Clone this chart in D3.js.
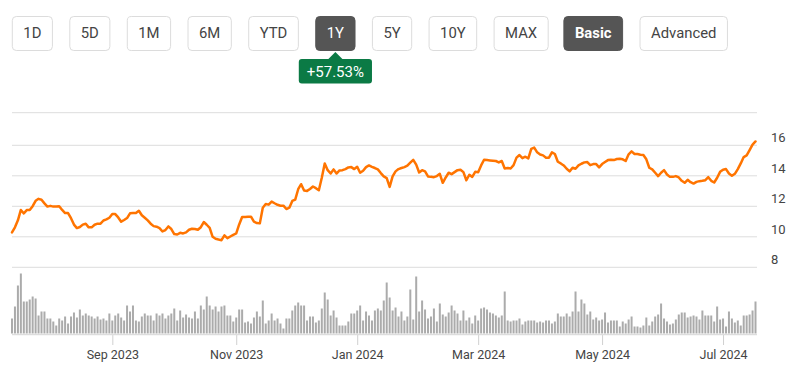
<!DOCTYPE html>
<html>
<head>
<meta charset="utf-8">
<script src="https://cdn.jsdelivr.net/npm/d3@7"></script>
<style>
  html, body { margin: 0; padding: 0; background: #fff; }
  svg { display: block; font-family: Roboto, "Open Sans", sans-serif; }
</style>
</head>
<body>
<svg id="chart" width="796" height="379"></svg>
<script>
// range buttons + view modes
const ranges = ["1D", "5D", "1M", "6M", "YTD", "1Y", "5Y", "10Y", "MAX"];
const modes = ["Basic", "Advanced"];
const activeRange = "1Y";
const activeMode = "Basic";
const changeLabel = "+57.53%";

// daily closes, one per trading day (Jul 2023 - Jul 2024)
const prices = [
  10.29, 10.62, 11.08, 11.76, 11.54, 11.75, 11.76, 12.01, 12.36, 12.49,
  12.43, 12.19, 11.98, 12.03, 11.98, 11.99, 12.01, 11.76, 11.56, 11.56,
  11.22, 10.80, 10.57, 10.64, 10.80, 10.86, 10.62, 10.62, 10.79, 10.86,
  10.86, 11.07, 11.14, 11.25, 11.49, 11.49, 11.27, 10.99, 11.10, 11.23,
  11.54, 11.56, 11.56, 11.71, 11.41, 11.25, 11.08, 10.86, 10.70, 10.66,
  10.57, 10.35, 10.44, 10.68, 10.51, 10.18, 10.15, 10.26, 10.22, 10.29,
  10.46, 10.53, 10.51, 10.46, 10.63, 10.97, 10.79, 10.59, 10.00, 9.87,
  9.82, 9.78, 10.09, 9.91, 10.02, 10.13, 10.22, 10.81, 11.30, 11.30,
  11.31, 11.32, 10.99, 10.90, 10.88, 11.91, 12.15, 12.11, 12.31, 12.20,
  12.10, 12.04, 12.04, 11.82, 11.91, 12.35, 12.44, 13.12, 13.45, 13.03,
  13.01, 13.14, 13.30, 13.19, 13.05, 13.87, 14.81, 14.37, 14.15, 14.42,
  14.15, 14.35, 14.37, 14.44, 14.55, 14.57, 14.44, 14.59, 14.20, 14.33,
  14.57, 14.68, 14.59, 14.51, 14.42, 14.18, 13.96, 13.85, 13.27, 13.96,
  14.29, 14.44, 14.51, 14.57, 14.66, 14.86, 15.05, 14.73, 14.22, 14.37,
  14.29, 13.96, 13.93, 13.91, 13.98, 14.13, 13.54, 13.89, 14.20, 14.11,
  14.24, 14.37, 14.40, 14.24, 13.71, 14.07, 13.93, 14.26, 14.24, 14.68,
  15.05, 15.03, 15.01, 14.99, 14.97, 14.88, 14.97, 14.48, 14.51, 14.48,
  14.70, 15.19, 15.36, 15.16, 15.25, 15.14, 15.76, 15.85, 15.54, 15.40,
  15.34, 15.19, 15.19, 15.54, 15.43, 14.92, 14.81, 14.68, 14.46, 14.29,
  14.53, 14.46, 14.68, 14.79, 14.88, 14.90, 14.70, 14.77, 14.77, 14.55,
  14.77, 14.90, 15.03, 15.05, 15.03, 15.10, 15.12, 15.08, 14.97, 15.41,
  15.60, 15.43, 15.43, 15.38, 15.36, 15.08, 14.53, 14.42, 14.20, 13.98,
  14.20, 14.37, 14.09, 13.93, 13.93, 13.98, 13.89, 13.67, 13.54, 13.74,
  13.58, 13.49, 13.60, 13.65, 13.67, 13.71, 13.91, 13.67, 13.56, 13.87,
  14.26, 14.40, 14.44, 14.15, 14.00, 14.13, 14.44, 14.81, 15.23, 15.34,
  15.69, 16.05, 16.25
];

// daily volume, millions of shares
const volumes = [
  15, 27, 48, 60, 32, 32, 34, 37, 35, 18, 22, 22, 15, 15, 12, 8, 15, 13, 17, 10,
  17, 21, 16, 24, 18, 20, 18, 17, 15, 17, 14, 15, 13, 20, 13, 18, 20, 16, 13, 28,
  22, 28, 13, 12, 17, 20, 18, 18, 13, 20, 18, 20, 15, 18, 20, 25, 13, 23, 16, 19,
  16, 15, 22, 15, 28, 24, 37, 28, 24, 27, 22, 27, 28, 18, 18, 12, 16, 24, 24, 11,
  12, 10, 16, 22, 17, 33,
  10, 13, 20, 13, 15, 10, 5, 15, 15, 23, 28, 31, 28, 28, 13, 17, 17, 11, 13, 25,
  41, 34, 18, 23, 16, 8, 8, 8, 12, 20, 20, 23, 28, 13, 22, 18, 13, 23, 25, 23,
  33, 51, 36, 23, 26, 17, 22, 13, 17, 44, 14, 57, 22, 33, 24, 15, 17, 25, 12, 30,
  19, 17, 21, 28, 23, 20, 13, 23, 13, 16, 10, 18, 13, 25, 26, 24, 21, 20, 18, 16,
  18, 42, 13, 12,
  13, 13, 15, 9, 12, 13, 13, 13, 11, 12, 11, 13, 13, 10, 12, 20, 17, 17, 20, 17,
  22, 42, 22, 34, 30, 19, 22, 14, 16, 13, 14, 21, 11, 13, 13, 13, 7, 12, 10, 14,
  17, 7, 7, 6, 8, 16, 8, 12, 17, 19, 30, 15, 12, 9, 10, 14, 19, 21, 21, 16,
  17, 18, 17, 14, 23, 18, 18, 18, 12, 27, 14, 15, 7, 22, 15, 11, 13, 8, 18, 18,
  19, 23, 32
];

// y axis values and month ticks (index of first trading day of the month)
const priceTicks = [8, 10, 12, 14, 16];
const monthTickIdx = [34, 76, 117, 158, 200, 241];
const monthLabels = ["Sep 2023", "Nov 2023", "Jan 2024", "Mar 2024", "May 2024", "Jul 2024"];

const svg = d3.select("#chart");

const left = 12, right = 757;
const plotTop = 112.7;
const volTop = 273.5, volBottom = 333.5;

const x = d3.scaleLinear().domain([0, prices.length - 1]).range([12, 755.5]);
const y = d3.scaleLinear().domain([8, 16]).range([267.3, 145.3]);
const yVol = d3.scaleLinear().domain([0, d3.max(volumes)]).range([volBottom, volTop]);

/*
 * Buttons on top
 */
function drawButtons() {
  const g = svg.append("g").attr("class", "buttons");
  let cx = 12.3;
  const groups = [ranges, modes];
  groups.forEach((labels, gi) => {
    labels.forEach(label => {
      const active = label === activeRange || label === activeMode;
      const bold = label === activeMode;
      const b = g.append("g");
      const rect = b.append("rect")
        .attr("y", 16.5)
        .attr("height", 34)
        .attr("rx", 4)
        .attr("fill", active ? "#555555" : "#ffffff")
        .attr("stroke", active ? "#555555" : "#dcdcdc")
        .attr("stroke-width", 1);
      const t = b.append("text")
        .attr("y", 38.4)
        .attr("text-anchor", "middle")
        .attr("font-size", "14.85px")
        .attr("font-weight", bold ? 700 : 400)
        .attr("fill", active ? "#ffffff" : "#444444")
        .text(label);
      const w = t.node().getComputedTextLength() + 22;
      rect.attr("x", cx).attr("width", w);
      t.attr("x", cx + w / 2);
      if (label === activeRange) drawBadge(cx + w / 2);
      cx += w + 17.4;
    });
    if (gi === 0) cx -= 1.7;
  });
}

function drawBadge(cx) {
  const g = svg.append("g").attr("class", "badge");
  const fill = "#0b7a45";
  g.append("path")
    .attr("d", "M" + (cx - 7.5) + ",59.5L" + cx + ",52L" + (cx + 7.5) + ",59.5Z")
    .attr("fill", fill);
  const t = g.append("text")
    .attr("x", cx)
    .attr("y", 76.5)
    .attr("text-anchor", "middle")
    .attr("font-size", "15px")
    .attr("fill", "#ffffff")
    .text(changeLabel);
  const w = t.node().getComputedTextLength() + 16;
  g.insert("rect", "text")
    .attr("x", cx - w / 2)
    .attr("y", 59)
    .attr("width", w)
    .attr("height", 24.5)
    .attr("rx", 3)
    .attr("fill", fill);
}

function drawGrid() {
  const g = svg.append("g").attr("class", "grid");
  g.append("line")
    .attr("x1", left).attr("x2", right)
    .attr("y1", plotTop).attr("y2", plotTop)
    .attr("stroke", "#dddddd");
  priceTicks.forEach(v => {
    g.append("line")
      .attr("x1", left).attr("x2", right)
      .attr("y1", y(v)).attr("y2", y(v))
      .attr("stroke", "#dddddd");
    g.append("text")
      .attr("x", 771)
      .attr("y", y(v) - 3)
      .attr("font-size", "13px")
      .attr("fill", "#444444")
      .text(v);
  });
}

function drawVolume() {
  svg.append("g").attr("class", "volume")
    .selectAll("rect")
    .data(volumes)
    .join("rect")
    .attr("x", (d, i) => x(i) - 1)
    .attr("width", 2)
    .attr("y", d => yVol(d))
    .attr("height", d => volBottom - yVol(d))
    .attr("fill", "#ababab");
}

function drawAxis() {
  const axis = d3.axisBottom(x)
    .tickValues(monthTickIdx)
    .tickFormat((d, i) => monthLabels[i])
    .tickSize(11)
    .tickPadding(5);
  const g = svg.append("g")
    .attr("transform", "translate(0,334)")
    .call(axis);
  g.select(".domain").remove();
  g.selectAll(".tick line").attr("stroke", "#d0d0d0");
  g.selectAll(".tick text")
    .attr("font-family", "Roboto, sans-serif")
    .attr("font-size", "12.5px")
    .attr("fill", "#444444");
  svg.append("line")
    .attr("x1", left).attr("x2", right)
    .attr("y1", 334.5).attr("y2", 334.5)
    .attr("stroke", "#dddddd")
    .attr("stroke-width", 1.5);
}

function drawLine() {
  const line = d3.line()
    .x((d, i) => x(i))
    .y(d => y(d));
  svg.append("path")
    .datum(prices)
    .attr("d", line)
    .attr("fill", "none")
    .attr("stroke", "#ff7400")
    .attr("stroke-width", 2.5)
    .attr("stroke-linejoin", "round")
    .attr("stroke-linecap", "round");
}

drawButtons();
drawGrid();
drawVolume();
drawAxis();
drawLine();
</script>
</body>
</html>
